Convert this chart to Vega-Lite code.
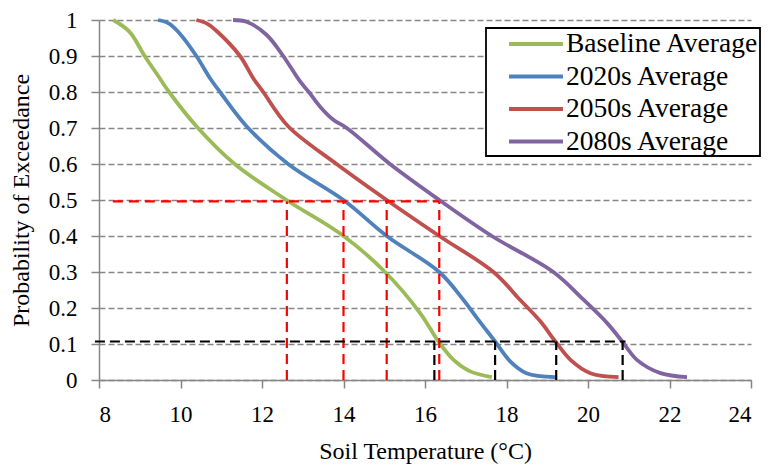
{
  "$schema": "https://vega.github.io/schema/vega-lite/v6.json",
  "width": 652,
  "height": 360,
  "autosize": {"type": "none"},
  "padding": {"left": 99, "top": 20, "right": 19, "bottom": 89},
  "background": "white",
  "config": {
    "view": {"stroke": null},
    "font": "Times",
    "axis": {
      "labelFont": "Times",
      "labelFontSize": 23,
      "labelColor": "black",
      "titleFont": "Times",
      "titleFontSize": 24,
      "titleFontWeight": "normal",
      "titleColor": "black",
      "domainColor": "#868686",
      "domainWidth": 1.5,
      "tickColor": "#868686",
      "tickWidth": 1.5,
      "tickSize": 8
    },
    "legend": {
      "orient": "none",
      "legendX": 387,
      "legendY": 8,
      "strokeColor": "black",
      "strokeWidth": 1.8,
      "fillColor": "white",
      "padding": 1,
      "symbolType": "M0.54,0H4.69",
      "symbolSize": 676,
      "symbolStrokeWidth": 4,
      "labelFont": "Times",
      "labelFontSize": 27.5,
      "labelColor": "black",
      "labelOffset": 49,
      "rowPadding": 3.5,
      "labelLimit": 400
    }
  },
  "encoding": {
    "x": {
      "field": "temp", "type": "quantitative",
      "scale": {"domain": [8, 24], "nice": false, "zero": false},
      "axis": {"values": [8, 10, 12, 14, 16, 18, 20, 22, 24], "grid": false, "title": "Soil Temperature (°C)", "labelFont": "Times", "titleFont": "Times", "labelPadding": 15, "titlePadding": 13}
    },
    "y": {
      "field": "p", "type": "quantitative",
      "scale": {"domain": [0, 1], "nice": false},
      "axis": {"values": [0, 0.1, 0.2, 0.3, 0.4, 0.5, 0.6, 0.7, 0.8, 0.9, 1], "format": ".1~f", "labelFont": "Times", "titleFont": "Times", "grid": true, "gridColor": "#868686", "gridDash": [6, 3], "gridWidth": 1.5, "title": "Probability of Exceedance", "labelPadding": 14, "titlePadding": 15}
    }
  },
  "layer": [
    {
      "data": {"values": [
        {"series": "Baseline Average", "temp": 8.35, "p": 1.0},
        {"series": "Baseline Average", "temp": 8.75, "p": 0.967},
        {"series": "Baseline Average", "temp": 9.12, "p": 0.9},
        {"series": "Baseline Average", "temp": 9.45, "p": 0.845},
        {"series": "Baseline Average", "temp": 9.72, "p": 0.8},
        {"series": "Baseline Average", "temp": 10.39, "p": 0.705},
        {"series": "Baseline Average", "temp": 11.33, "p": 0.6},
        {"series": "Baseline Average", "temp": 12.6, "p": 0.5},
        {"series": "Baseline Average", "temp": 14.0, "p": 0.4},
        {"series": "Baseline Average", "temp": 15.02, "p": 0.3},
        {"series": "Baseline Average", "temp": 15.88, "p": 0.186},
        {"series": "Baseline Average", "temp": 16.33, "p": 0.107},
        {"series": "Baseline Average", "temp": 16.7, "p": 0.056},
        {"series": "Baseline Average", "temp": 17.11, "p": 0.024},
        {"series": "Baseline Average", "temp": 17.64, "p": 0.008},
        {"series": "2020s Average", "temp": 9.45, "p": 1.0},
        {"series": "2020s Average", "temp": 9.72, "p": 0.99},
        {"series": "2020s Average", "temp": 10.0, "p": 0.96},
        {"series": "2020s Average", "temp": 10.39, "p": 0.9},
        {"series": "2020s Average", "temp": 10.72, "p": 0.839},
        {"series": "2020s Average", "temp": 10.97, "p": 0.8},
        {"series": "2020s Average", "temp": 11.62, "p": 0.705},
        {"series": "2020s Average", "temp": 12.64, "p": 0.6},
        {"series": "2020s Average", "temp": 14.0, "p": 0.5},
        {"series": "2020s Average", "temp": 15.06, "p": 0.4},
        {"series": "2020s Average", "temp": 16.35, "p": 0.3},
        {"series": "2020s Average", "temp": 16.94, "p": 0.223},
        {"series": "2020s Average", "temp": 17.31, "p": 0.167},
        {"series": "2020s Average", "temp": 17.72, "p": 0.107},
        {"series": "2020s Average", "temp": 18.09, "p": 0.052},
        {"series": "2020s Average", "temp": 18.49, "p": 0.019},
        {"series": "2020s Average", "temp": 19.2, "p": 0.008},
        {"series": "2050s Average", "temp": 10.39, "p": 1.0},
        {"series": "2050s Average", "temp": 10.65, "p": 0.99},
        {"series": "2050s Average", "temp": 10.9, "p": 0.968},
        {"series": "2050s Average", "temp": 11.46, "p": 0.9},
        {"series": "2050s Average", "temp": 11.78, "p": 0.839},
        {"series": "2050s Average", "temp": 12.03, "p": 0.8},
        {"series": "2050s Average", "temp": 12.64, "p": 0.705},
        {"series": "2050s Average", "temp": 13.83, "p": 0.6},
        {"series": "2050s Average", "temp": 15.06, "p": 0.5},
        {"series": "2050s Average", "temp": 16.35, "p": 0.4},
        {"series": "2050s Average", "temp": 17.68, "p": 0.3},
        {"series": "2050s Average", "temp": 18.33, "p": 0.223},
        {"series": "2050s Average", "temp": 18.83, "p": 0.163},
        {"series": "2050s Average", "temp": 19.2, "p": 0.107},
        {"series": "2050s Average", "temp": 19.57, "p": 0.056},
        {"series": "2050s Average", "temp": 20.06, "p": 0.019},
        {"series": "2050s Average", "temp": 20.75, "p": 0.008},
        {"series": "2080s Average", "temp": 11.29, "p": 1.0},
        {"series": "2080s Average", "temp": 11.62, "p": 0.995},
        {"series": "2080s Average", "temp": 12.11, "p": 0.959},
        {"series": "2080s Average", "temp": 12.52, "p": 0.9},
        {"series": "2080s Average", "temp": 12.93, "p": 0.83},
        {"series": "2080s Average", "temp": 13.15, "p": 0.8},
        {"series": "2080s Average", "temp": 13.42, "p": 0.76},
        {"series": "2080s Average", "temp": 13.75, "p": 0.723},
        {"series": "2080s Average", "temp": 14.08, "p": 0.7},
        {"series": "2080s Average", "temp": 15.14, "p": 0.6},
        {"series": "2080s Average", "temp": 16.35, "p": 0.5},
        {"series": "2080s Average", "temp": 17.64, "p": 0.4},
        {"series": "2080s Average", "temp": 19.15, "p": 0.3},
        {"series": "2080s Average", "temp": 19.89, "p": 0.223},
        {"series": "2080s Average", "temp": 20.47, "p": 0.158},
        {"series": "2080s Average", "temp": 20.84, "p": 0.107},
        {"series": "2080s Average", "temp": 21.2, "p": 0.056},
        {"series": "2080s Average", "temp": 21.78, "p": 0.019},
        {"series": "2080s Average", "temp": 22.43, "p": 0.008}
      ]},
      "mark": {"type": "line", "interpolate": "catmull-rom", "strokeWidth": 3.8},
      "encoding": {
        "color": {
          "field": "series", "type": "nominal",
          "scale": {"domain": ["Baseline Average", "2020s Average", "2050s Average", "2080s Average"], "range": ["#9BBB59", "#4F81BD", "#C0504D", "#8064A2"]},
          "legend": {"title": null}
        }
      }
    },
    {
      "data": {"values": [
        {"temp": 8.34, "temp2": 16.35, "p": 0.496, "p2": 0.496},
        {"temp": 12.61, "temp2": 12.61, "p": 0, "p2": 0.496},
        {"temp": 14.0, "temp2": 14.0, "p": 0, "p2": 0.496},
        {"temp": 15.06, "temp2": 15.06, "p": 0, "p2": 0.496},
        {"temp": 16.35, "temp2": 16.35, "p": 0, "p2": 0.496}
      ]},
      "mark": {"type": "rule", "color": "#FF0000", "strokeWidth": 2.2, "strokeDash": [10, 6]},
      "encoding": {
        "x2": {"field": "temp2"},
        "y2": {"field": "p2"}
      }
    },
    {
      "data": {"values": [
        {"temp": 7.9, "temp2": 20.92, "p": 0.107, "p2": 0.107},
        {"temp": 16.23, "temp2": 16.23, "p": 0, "p2": 0.107},
        {"temp": 17.72, "temp2": 17.72, "p": 0, "p2": 0.107},
        {"temp": 19.22, "temp2": 19.22, "p": 0, "p2": 0.107},
        {"temp": 20.85, "temp2": 20.85, "p": 0, "p2": 0.107}
      ]},
      "mark": {"type": "rule", "color": "black", "strokeWidth": 2.2, "strokeDash": [10, 5]},
      "encoding": {
        "x2": {"field": "temp2"},
        "y2": {"field": "p2"}
      }
    }
  ]
}
